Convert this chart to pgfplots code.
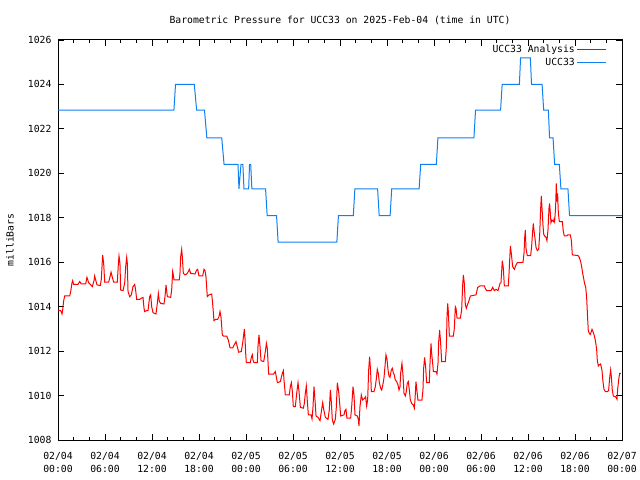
\documentclass[border=0pt]{standalone}
\usepackage{pgfplots}
\pgfplotsset{compat=1.18}
\usepackage{fontspec}
\setmainfont{DejaVu Sans Mono}
\definecolor{gpred}{RGB}{255,0,0}
\definecolor{gpblue}{RGB}{16,128,240}
\pgfplotsset{
  gplegend/.style={legend image code/.code={\draw[##1] (9bp,0bp) -- (38bp,0bp);}}
}
\begin{document}
\begin{tikzpicture}
\path[use as bounding box] (-58bp,-40bp) rectangle (582bp,440bp);
\begin{axis}[
  at={(0,0)}, anchor=south west,
  scale only axis, width=564bp, height=400bp,
  xmin=0, xmax=72, ymin=1008, ymax=1026,
  font={\fontsize{9.8}{13}\selectfont},
  xtick={0,6,...,72},
  xticklabels={{02/04\\00:00},{02/04\\06:00},{02/04\\12:00},{02/04\\18:00},{02/05\\00:00},{02/05\\06:00},{02/05\\12:00},{02/05\\18:00},{02/06\\00:00},{02/06\\06:00},{02/06\\12:00},{02/06\\18:00},{02/07\\00:00}},
  xticklabel style={align=center, yshift=-9bp},
  yticklabel style={xshift=-3bp},
  minor xtick={0,2,...,72},
  ytick={1008,1010,...,1026},
  yticklabels={1008,1010,1012,1014,1016,1018,1020,1022,1024,1026},
  tick align=inside,
  major tick length=6bp, minor tick length=3bp,
  every tick/.style={black, line width=0.8bp},
  axis line style={line width=1bp},
  title={Barometric Pressure for UCC33 on 2025-Feb-04 (time in UTC)},
  title style={at={(axis description cs:0.5,1.05)}, anchor=center, yshift=-6bp, inner sep=0pt},
  ylabel={milliBars},
  ylabel style={at={(axis description cs:-0.0851,0.5)}, anchor=center, inner sep=0pt},
  gplegend,
  legend plot pos=right,
  legend cell align=right,
  legend style={at={(axis description cs:1,1)}, anchor=north east, xshift=-12bp, yshift=-1bp, draw=none, fill=none, row sep=0bp, font={\fontsize{9.8}{13}\selectfont}},
]
\addplot[gpred, line width=1bp] coordinates {
(0.00,1013.85)(0.34,1013.82)(0.51,1013.67)(0.60,1013.85)(0.72,1014.26)(0.85,1014.48)(1.49,1014.48)(1.62,1014.68)(1.79,1015.08)(1.87,1015.17)(2.00,1015.00)(2.55,1015.00)(2.77,1015.13)(2.98,1015.02)(3.53,1015.02)(3.70,1015.32)(3.91,1015.08)(4.13,1015.00)(4.38,1014.90)(4.60,1015.17)(4.68,1015.38)(4.81,1015.20)(4.98,1014.98)(5.40,1014.95)(5.53,1015.23)(5.70,1016.33)(5.83,1015.95)(5.96,1015.10)(6.47,1015.10)(6.64,1015.35)(6.77,1015.55)(6.94,1015.32)(7.11,1015.10)(7.57,1015.10)(7.70,1015.88)(7.79,1016.28)(7.91,1015.95)(8.00,1014.75)(8.30,1014.72)(8.51,1015.05)(8.64,1015.80)(8.77,1016.22)(8.85,1015.95)(8.94,1014.68)(9.15,1014.45)(9.36,1014.53)(9.57,1014.90)(9.79,1015.00)(9.91,1014.75)(10.04,1014.33)(10.43,1014.33)(10.64,1014.38)(10.85,1014.42)(10.98,1013.93)(11.06,1013.78)(11.28,1013.82)(11.49,1013.82)(11.70,1014.45)(11.83,1014.53)(11.96,1014.00)(12.13,1013.73)
(12.51,1013.67)(12.68,1014.15)(12.81,1014.60)(12.94,1014.23)(13.11,1014.15)(13.53,1014.12)(13.66,1014.45)(13.79,1014.98)(13.96,1014.45)(14.38,1014.42)(14.51,1014.75)(14.64,1015.58)(14.72,1015.43)(14.81,1015.20)(15.49,1015.20)(15.57,1015.50)(15.66,1016.25)(15.79,1016.58)(15.87,1016.25)(16.00,1015.50)(16.21,1015.43)(16.43,1015.47)(16.64,1015.58)(16.77,1015.68)(16.94,1015.50)(17.49,1015.47)(17.70,1015.65)(17.83,1015.68)(18.00,1015.38)(18.47,1015.38)(18.64,1015.68)(18.77,1015.62)(18.89,1015.35)(19.06,1014.45)(19.28,1014.53)(19.62,1014.57)(19.74,1014.15)(19.91,1013.37)(20.13,1013.43)(20.38,1013.43)(20.55,1013.55)(20.68,1013.78)(20.81,1013.52)(20.98,1012.72)(21.11,1012.68)(21.53,1012.68)(21.74,1012.50)(21.96,1012.15)(22.30,1012.15)(22.60,1012.35)(22.72,1012.43)(22.89,1012.20)(23.06,1011.95)(23.40,1011.98)(23.57,1012.35)(23.70,1012.72)(23.79,1013.00)(23.87,1012.60)(23.96,1011.90)
(24.04,1011.48)(24.55,1011.48)(24.68,1011.72)(24.81,1011.84)(24.89,1011.60)(25.02,1011.48)(25.45,1011.48)(25.53,1012.20)(25.66,1012.73)(25.79,1012.20)(25.92,1011.57)(26.26,1011.53)(26.47,1011.98)(26.60,1012.35)(26.72,1012.13)(26.89,1010.97)(27.53,1010.97)(27.74,1011.08)(27.87,1010.85)(28.00,1010.58)(28.38,1010.63)(28.51,1010.82)(28.64,1011.00)(28.77,1011.12)(28.85,1010.70)(29.02,1010.03)(29.53,1010.03)(29.66,1010.40)(29.79,1010.58)(29.92,1010.18)(30.04,1009.50)(30.30,1009.50)(30.47,1010.10)(30.64,1010.58)(30.77,1010.18)(30.94,1009.47)(31.32,1009.43)(31.45,1009.65)(31.57,1010.10)(31.70,1010.43)(31.83,1009.73)(31.96,1009.13)(32.30,1009.13)(32.43,1008.95)(32.55,1009.47)(32.68,1010.40)(32.81,1009.80)(32.94,1009.08)(33.19,1009.02)(33.45,1008.87)(33.62,1009.28)(33.79,1009.68)(33.92,1009.38)(34.13,1009.02)(34.47,1008.93)(34.64,1009.38)(34.77,1010.25)(34.89,1009.73)(35.02,1008.90)(35.19,1008.72)(35.40,1008.93)(35.53,1009.47)
(35.66,1010.58)(35.83,1010.18)(36.00,1009.47)(36.08,1009.08)(36.51,1009.13)(36.63,1009.32)(36.76,1009.38)(36.89,1008.98)(37.36,1008.98)(37.49,1009.50)(37.66,1010.40)(37.78,1010.07)(37.91,1009.13)(38.21,1009.08)(38.34,1008.93)(38.42,1008.63)(38.55,1009.50)(38.72,1010.03)(38.89,1009.80)(39.14,1009.88)(39.27,1009.95)(39.40,1009.53)(39.53,1009.80)(39.66,1011.15)(39.78,1011.75)(39.91,1011.08)(40.00,1010.18)(40.34,1010.18)(40.51,1010.40)(40.63,1010.73)(40.76,1011.18)(40.89,1011.00)(41.02,1010.58)(41.19,1010.33)(41.32,1010.25)(41.44,1010.43)(41.61,1010.78)(41.74,1011.30)(41.87,1011.83)(42.00,1011.63)(42.12,1011.18)(42.25,1010.88)(42.38,1010.82)(42.55,1011.15)(42.68,1011.23)(42.80,1011.03)(42.93,1010.93)(43.06,1010.70)(43.23,1010.63)(43.40,1010.48)(43.53,1010.25)(43.66,1010.40)(43.74,1011.00)(43.91,1011.45)(44.04,1010.93)(44.17,1010.10)(44.34,1009.98)(44.46,1010.18)(44.59,1010.55)(44.72,1010.63)(44.85,1010.25)(44.98,1009.80)(45.19,1009.62)(45.36,1009.58)(45.49,1009.43)(45.57,1009.80)(45.70,1010.63)(45.83,1010.18)(45.95,1009.80)(46.46,1009.80)(46.59,1010.25)(46.68,1011.23)(46.80,1011.72)(46.93,1011.30)(47.06,1010.58)(47.40,1010.58)
(47.49,1011.45)(47.62,1012.35)(47.70,1011.90)(47.83,1011.45)(47.92,1011.08)(48.26,1011.08)(48.38,1010.97)(48.51,1011.45)(48.60,1012.43)(48.72,1012.95)(48.85,1012.35)(48.98,1011.53)(49.45,1011.53)(49.58,1012.20)(49.66,1013.55)(49.75,1014.15)(49.83,1013.78)(49.96,1012.68)(50.47,1012.68)(50.60,1013.03)(50.72,1014.00)(50.81,1013.93)(50.94,1013.48)(51.36,1013.48)(51.53,1013.85)(51.66,1014.98)(51.75,1015.43)(51.87,1015.05)(52.00,1014.08)(52.13,1013.93)(52.26,1014.08)(52.43,1014.23)(52.64,1014.48)(53.36,1014.53)(53.58,1014.87)(53.87,1014.93)(54.43,1014.93)(54.55,1014.82)(54.72,1014.72)(55.28,1014.72)(55.49,1014.87)(55.70,1014.72)(55.92,1014.78)(56.17,1014.72)(56.43,1015.05)(56.55,1015.08)(56.72,1016.07)(56.85,1015.73)(56.98,1014.93)(57.49,1014.93)(57.62,1015.80)(57.75,1016.73)(57.87,1016.40)(58.04,1015.80)(58.26,1015.68)(58.47,1015.88)(58.64,1015.98)
(59.36,1015.99)(59.49,1016.40)(59.57,1017.08)(59.66,1017.45)(59.74,1016.63)(59.91,1016.30)(60.34,1016.30)(60.46,1016.70)(60.59,1017.38)(60.68,1017.75)(60.76,1017.45)(60.89,1017.08)(61.02,1016.67)(61.19,1016.52)(61.36,1016.58)(61.49,1017.23)(61.61,1018.38)(61.70,1018.98)(61.78,1018.50)(61.91,1017.68)(62.00,1017.27)(62.12,1017.18)(62.30,1017.12)(62.42,1016.97)(62.55,1017.45)(62.68,1018.43)(62.76,1018.65)(62.85,1018.20)(62.93,1017.78)(63.06,1017.90)(63.23,1017.83)(63.32,1017.93)(63.40,1017.83)(63.53,1018.50)(63.61,1019.55)(63.70,1018.73)(63.78,1019.10)(63.87,1018.23)(64.00,1017.83)(64.38,1017.83)(64.51,1017.38)(64.64,1017.18)(64.93,1017.18)(65.06,1017.23)(65.40,1017.23)(65.53,1017.00)(65.66,1016.33)(66.38,1016.30)(66.55,1016.22)(66.72,1016.03)(66.85,1015.80)(66.98,1015.50)(67.10,1015.28)(67.23,1015.02)(67.36,1014.90)(67.49,1014.40)(67.61,1013.48)(67.70,1012.90)(67.83,1012.80)(67.95,1012.75)(68.08,1012.88)(68.17,1012.98)(68.29,1012.88)(68.42,1012.75)(68.59,1012.50)(68.76,1012.10)(68.85,1011.57)(68.98,1011.33)(69.10,1011.38)(69.27,1011.42)(69.44,1011.15)(69.57,1010.63)(69.70,1010.28)(69.87,1010.18)(70.13,1010.18)(70.29,1010.22)(70.42,1010.78)(70.55,1011.15)(70.64,1010.85)(70.76,1010.25)(70.89,1009.98)(71.15,1009.95)(71.27,1009.90)(71.36,1009.83)(71.44,1010.25)(71.57,1010.70)(71.70,1011.00)(71.85,1011.00)
};
\addlegendentry{UCC33 Analysis}
\addplot[gpblue, line width=1bp] coordinates {
(0,1022.84)(14.8,1022.84)(15.0,1024.0)(17.4,1024.0)(17.7,1022.84)(18.7,1022.84)(19.0,1021.6)(20.9,1021.6)(21.2,1020.4)(22.98,1020.4)(23.1,1019.3)(23.36,1020.4)(23.6,1020.4)(23.74,1019.3)(24.34,1019.3)(24.45,1020.4)(24.6,1020.4)(24.75,1019.3)(26.5,1019.3)(26.7,1018.1)(27.9,1018.1)(28.1,1016.9)(35.6,1016.9)(35.8,1018.1)(37.7,1018.1)(37.9,1019.3)(40.8,1019.3)(41.0,1018.1)(42.4,1018.1)(42.6,1019.3)(46.1,1019.3)(46.3,1020.4)(48.3,1020.4)(48.5,1021.6)(53.1,1021.6)(53.3,1022.84)(56.5,1022.84)(56.7,1024.0)(58.9,1024.0)(59.05,1025.2)(60.3,1025.2)(60.45,1024.0)(61.8,1024.0)(62.0,1022.84)(62.6,1022.84)(62.75,1021.6)(63.2,1021.6)(63.4,1020.4)(64.0,1020.4)(64.2,1019.3)(65.1,1019.3)(65.3,1018.1)(72,1018.1)
};
\addlegendentry{UCC33}
\end{axis}
\end{tikzpicture}
\end{document}
